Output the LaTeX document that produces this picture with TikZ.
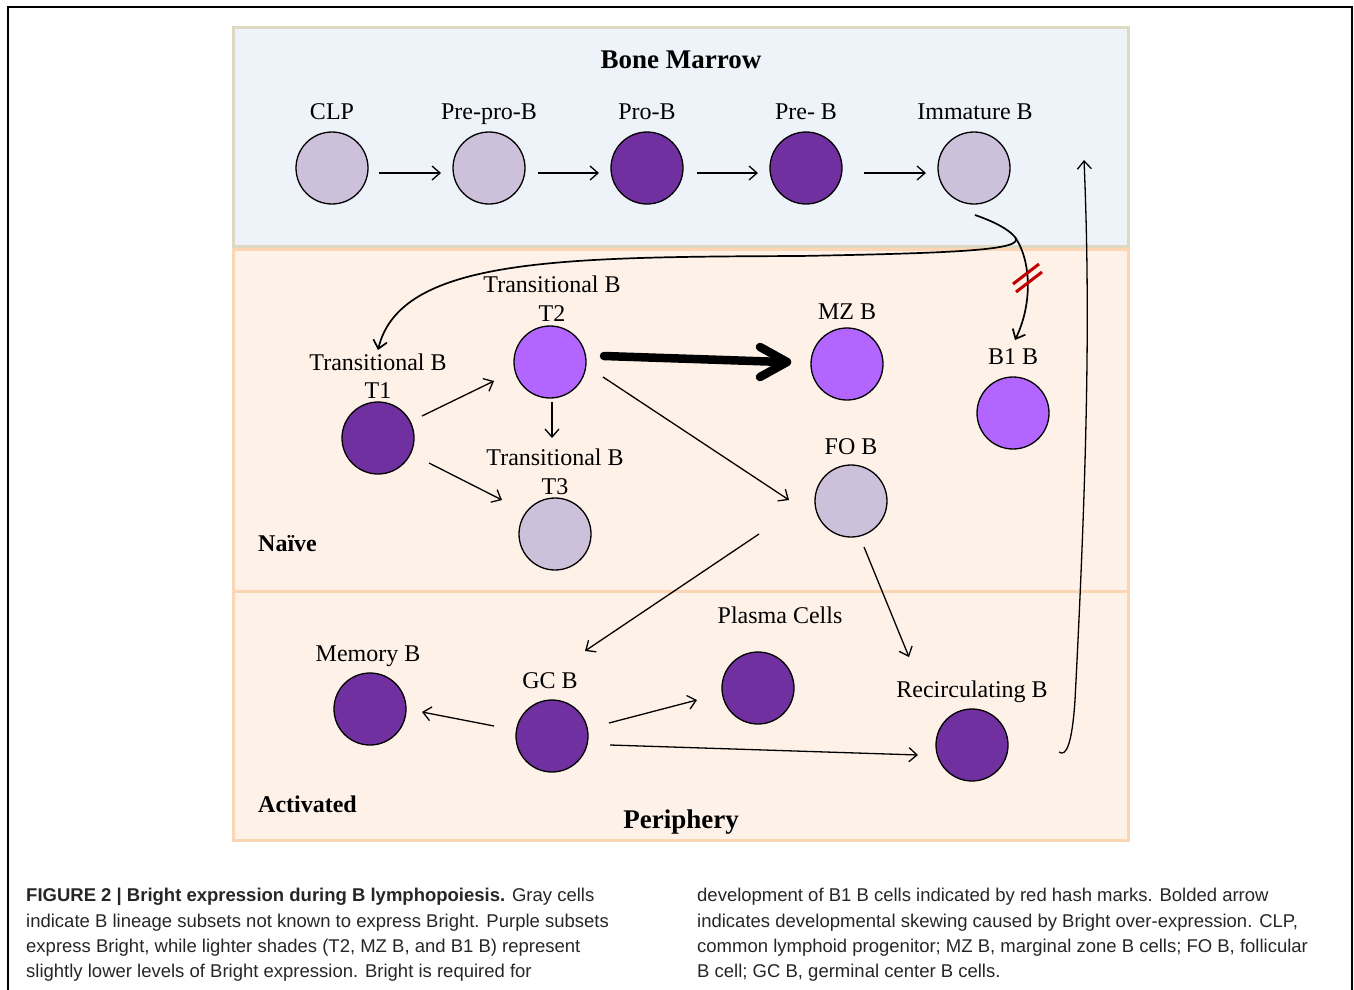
\documentclass[tikz,border=0pt]{standalone}
\usepackage{fontspec}
\setmainfont{Liberation Serif}
\newfontfamily\capfont{Liberation Sans}
\usetikzlibrary{calc,arrows.meta}
\definecolor{lilac}{HTML}{CCC0DA}
\definecolor{dpurple}{HTML}{7030A0}
\definecolor{lpurple}{HTML}{B266FF}
\definecolor{bmfill}{HTML}{EEF3FA}
\definecolor{bmline}{HTML}{DDD9C3}
\definecolor{pfill}{HTML}{FDF1E8}
\definecolor{pline}{HTML}{FCD5B4}
\definecolor{hashred}{HTML}{C00000}
\begin{document}
\begin{tikzpicture}[x=1pt,y=-1pt,
  cell/.style={circle, draw=black, line width=1.3pt, minimum size=72pt, inner sep=0pt},
  lbl/.style={anchor=base, inner sep=0pt, font=\fontsize{24}{24}\selectfont},
  ttl/.style={anchor=base, inner sep=0pt, font=\fontsize{27}{27}\selectfont\bfseries},
  sub/.style={anchor=base west, inner sep=0pt, font=\fontsize{24}{24}\selectfont\bfseries},
  arr/.style={line width=1.3pt, -{Straight Barb[length=8pt,width=14pt]}},
  curvearr/.style={line width=1.7pt, -{Straight Barb[length=8pt,width=14pt]}},
  boldarr/.style={line width=8.5pt, line cap=round, line join=round},
  capline/.style={anchor=base west, inner sep=0pt, font=\capfont\fontsize{18.5}{18.5}\selectfont, text=black!85},
  hash/.style={draw=hashred, line width=3pt},
  frame/.style={line width=1.5pt}
]
\useasboundingbox (0,0) rectangle (1354,990);
% outer frame
\draw[frame] (8,990) -- (8,7) -- (1352,7) -- (1352,990);
% panels
\draw[line width=3pt, draw=pline, fill=pfill] (233,249) rectangle (1128,840);
\draw[line width=3pt, draw=pline] (233,591) -- (1128,591);
\draw[line width=3pt, draw=bmline, fill=bmfill] (233,28) rectangle (1128,246);

% titles
\node[ttl] (tbm) at (681,68) {Bone Marrow};
\node[ttl] (tper) at (681,828) {Periphery};
\node[sub] (tnaive) at (258,551) {Naïve};
\node[sub] (tact) at (258,812) {Activated};

% bone marrow cells
\node[cell, fill=lilac] (clp) at (332,168) {};
\node[cell, fill=lilac] (ppb) at (489,168) {};
\node[cell, fill=dpurple] (prob) at (647,168) {};
\node[cell, fill=dpurple] (preb) at (806,168) {};
\node[cell, fill=lilac] (imm) at (974,168) {};
\node[lbl] (lclp) at (332,119) {CLP};
\node[lbl] (lppb) at (489,119) {Pre-pro-B};
\node[lbl] (lprob) at (647,119) {Pro-B};
\node[lbl] (lpreb) at (806,119) {Pre- B};
\node[lbl] (limm) at (975,119) {Immature B};

% naive cells
\node[cell, fill=dpurple] (t1) at (378,438) {};
\node[cell, fill=lpurple] (t2) at (550,362) {};
\node[cell, fill=lilac] (t3) at (555,534) {};
\node[cell, fill=lpurple] (mz) at (847,364) {};
\node[cell, fill=lilac] (fo) at (851,501) {};
\node[cell, fill=lpurple] (b1) at (1013,413) {};
\node[lbl] (lt1a) at (378,370) {Transitional B};
\node[lbl] (lt1b) at (378,398) {T1};
\node[lbl] (lt2a) at (552,292) {Transitional B};
\node[lbl] (lt2b) at (552,321) {T2};
\node[lbl] (lt3a) at (555,465) {Transitional B};
\node[lbl] (lt3b) at (555,494) {T3};
\node[lbl] (lmz) at (847,319) {MZ B};
\node[lbl] (lfo) at (851,454) {FO B};
\node[lbl] (lb1) at (1013,364) {B1 B};

% activated cells
\node[cell, fill=dpurple] (mem) at (370,709) {};
\node[cell, fill=dpurple] (gc) at (552,736) {};
\node[cell, fill=dpurple] (pc) at (758,688) {};
\node[cell, fill=dpurple] (rec) at (972,745) {};
\node[lbl] (lmem) at (368,661) {Memory B};
\node[lbl] (lgc) at (550,688) {GC B};
\node[lbl] (lpc) at (780,623) {Plasma Cells};
\node[lbl] (lrec) at (972,697) {Recirculating B};

% bone marrow arrows
\draw[arr] ($(clp)+(47,5)$) -- ($(ppb)+(-48,5)$);
\draw[arr] ($(ppb)+(49,5)$) -- ($(prob)+(-48,5)$);
\draw[arr] ($(prob)+(50,5)$) -- ($(preb)+(-48,5)$);
\draw[arr] ($(preb)+(58,5)$) -- ($(imm)+(-48,5)$);

% immature B -> T1 and B1
\coordinate (split) at ($(imm)+(41,69)$);
\draw[line width=1.7pt] ($(imm)+(1,47)$) .. controls (995,222) and (1008,229) .. (split);
\draw[curvearr] (split) .. controls (1026,250) and (960,253) .. (800,256)
  .. controls (560,257) and (400,258) .. ($(t1)+(0,-88)$);
\draw[curvearr] (split) .. controls (1032,262) and (1032,305) .. ($(b1)+(2,-73)$);
\coordinate (hashc) at (1027,278);
\draw[hash] ($(hashc)+(-14,6)$) -- ($(hashc)+(12,-14)$);
\draw[hash] ($(hashc)+(-11,14)$) -- ($(hashc)+(15,-6)$);

% naive arrows
\draw[arr] ($(t1)+(44,-22)$) -- ($(t2)+(-56,19)$);
\draw[arr] ($(t1)+(51,25)$) -- ($(t3)+(-53,-34)$);
\draw[arr] ($(t2)+(2,40)$) -- ($(t3)+(-3,-96)$);
\coordinate (boldtip) at ($(mz)+(-60,-2)$);
\draw[boldarr] ($(t2)+(54,-6)$) -- ($(boldtip)+(-4,0)$);
\draw[boldarr] ($(boldtip)+(-27,-15)$) -- (boldtip) -- ($(boldtip)+(-27,15)$);
\draw[arr] ($(t2)+(53,15)$) -- ($(fo)+(-62,-1)$);
\draw[arr] ($(fo)+(-92,33)$) -- ($(gc)+(33,-85)$);
\draw[arr] ($(fo)+(13,46)$) -- ($(rec)+(-63,-88)$);

% activated arrows
\draw[arr] ($(gc)+(-58,-10)$) -- ($(mem)+(52,3)$);
\draw[arr] ($(gc)+(57,-13)$) -- ($(pc)+(-61,12)$);
\draw[arr] ($(gc)+(58,9)$) -- ($(rec)+(-54,10)$);

% recirculation back to bone marrow
\coordinate (loopstart) at ($(rec)+(87,7)$);
\coordinate (looptip) at ($(imm)+(110,-8)$);
\draw[arr] (loopstart) .. controls (1066,757) and (1072,745) .. (1075,700)
  .. controls (1088,450) and (1090,300) .. (looptip);

% caption
\node[capline] (c1) at (26,901) {\textbf{FIGURE 2 | Bright expression during B lymphopoiesis.} Gray cells};
\node[capline] (c2) at (26,927) {indicate B lineage subsets not known to express Bright. Purple subsets};
\node[capline] (c3) at (26,952) {express Bright, while lighter shades (T2, MZ B, and B1 B) represent};
\node[capline] (c4) at (26,977) {slightly lower levels of Bright expression. Bright is required for};
\node[capline] (c5) at (697,901) {development of B1 B cells indicated by red hash marks. Bolded arrow};
\node[capline] (c6) at (697,927) {indicates developmental skewing caused by Bright over-expression. CLP,};
\node[capline] (c7) at (697,952) {common lymphoid progenitor; MZ B, marginal zone B cells; FO B, follicular};
\node[capline] (c8) at (697,977) {B cell; GC B, germinal center B cells.};
\end{tikzpicture}
\end{document}
